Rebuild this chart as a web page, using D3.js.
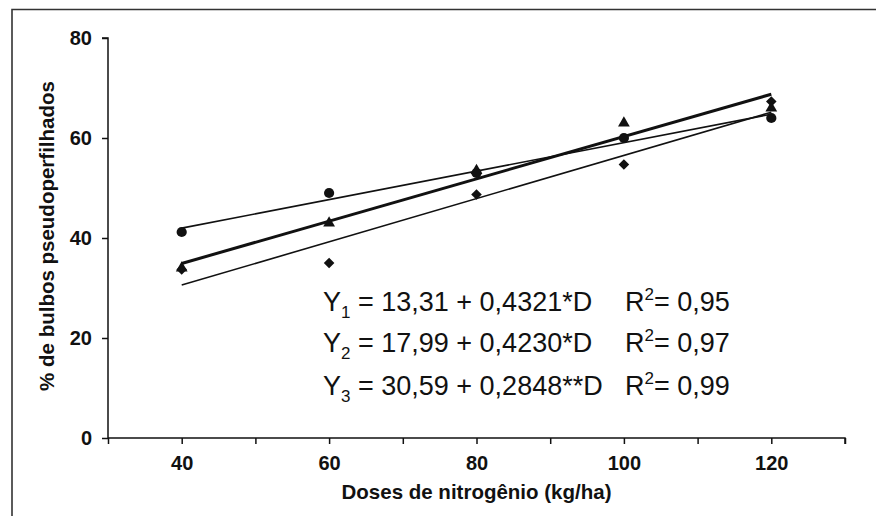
<!DOCTYPE html>
<html>
<head>
<meta charset="utf-8">
<script src="https://cdn.jsdelivr.net/npm/d3@7"></script>
<style>
  body { margin: 0; background: #fff; }
  svg text { font-family: Arial, "Liberation Sans", sans-serif; }
</style>
</head>
<body>
<div id="chart"></div>
<script>
// Doses (kg/ha) and observed percentages
const doses = [40, 60, 80, 100, 120];
const y1Values = [33.7, 35, 48.7, 54.7, 67.3]; // diamonds
const y2Values = [34, 43, 53.5, 63, 66];       // triangles
const y3Values = [41.2, 49, 53, 60, 64];       // circles

// Regression coefficients
const intercepts = [13.31, 17.99, 30.59];
const slopes = [0.4321, 0.4230, 0.2848];
const slopeLabels = ["0,4321*D", "0,4230*D", "0,2848**D"];
const interceptLabels = ["13,31", "17,99", "30,59"];
const r2Labels = ["0,95", "0,97", "0,99"];

const xTicks = [30, 40, 50, 60, 70, 80, 90, 100, 110, 120, 130];
const xLabels = [40, 60, 80, 100, 120];
const yTicks = [0, 20, 40, 60, 80];

const width = 876;
const height = 516;

const svg = d3.select("#chart")
  .append("svg")
  .attr("width", width)
  .attr("height", height);

// frame (top + left only, image is cropped)
svg.append("path")
  .attr("d", "M12,516 L12,9.5 L876,9.5")
  .attr("fill", "none")
  .attr("stroke", "#333")
  .attr("stroke-width", 1.6);

const x = d3.scaleLinear().domain([30, 130]).range([108, 845]);
const y = d3.scaleLinear().domain([0, 80]).range([438, 38]);

// Y axis
const yAxis = svg.append("g")
  .attr("transform", `translate(${x(30)},0)`)
  .call(d3.axisLeft(y).tickValues(yTicks).tickSize(6).tickPadding(10));
yAxis.select(".domain").attr("d", `M-6,${y(80)}H0V${y(0)}`);

// X axis
const xAxis = svg.append("g")
  .attr("transform", `translate(0,${y(0)})`)
  .call(d3.axisBottom(x).tickValues(xTicks).tickSize(6).tickPadding(12)
    .tickFormat((d) => (xLabels.includes(d) ? d : "")));
xAxis.select(".domain").attr("d", `M${x(30)},0H${x(130)}V6`);

svg.selectAll(".tick text")
  .attr("font-size", "20px")
  .attr("font-weight", "bold")
  .attr("fill", "#111");
svg.selectAll(".domain, .tick line")
  .attr("stroke", "#111")
  .attr("stroke-width", 1.5);

// axis titles
svg.append("text")
  .attr("x", (x(30) + x(130)) / 2)
  .attr("y", 499)
  .attr("text-anchor", "middle")
  .attr("font-size", "20.5px")
  .attr("font-weight", "bold")
  .attr("fill", "#111")
  .text("Doses de nitrogênio (kg/ha)");

svg.append("text")
  .attr("transform", "translate(54,236) rotate(-90)")
  .attr("text-anchor", "middle")
  .attr("font-size", "20.5px")
  .attr("font-weight", "bold")
  .attr("fill", "#111")
  .text("% de bulbos pseudoperfilhados");

// regression lines
const lineWidths = [1.6, 3, 1.6];
intercepts.forEach((b, i) => {
  const ends = [doses[0], doses[doses.length - 1]];
  svg.append("line")
    .attr("x1", x(ends[0]))
    .attr("y1", y(b + slopes[i] * ends[0]))
    .attr("x2", x(ends[1]))
    .attr("y2", y(b + slopes[i] * ends[1]))
    .attr("stroke", "#111")
    .attr("stroke-width", lineWidths[i]);
});

// markers
const diamond = d3.symbol().type(d3.symbolSquare).size(56);
const series = [
  { values: y1Values, path: diamond(), rotate: 45 },
  { values: y3Values, path: d3.symbol().type(d3.symbolCircle).size(82)(), rotate: 0 },
  { values: y2Values, path: d3.symbol().type(d3.symbolTriangle).size(60)(), rotate: 0 },
];
series.forEach((s) => {
  svg.append("g")
    .selectAll("path")
    .data(doses.map((d, i) => [d, s.values[i]]))
    .enter()
    .append("path")
    .attr("transform", (d) => `translate(${x(d[0])},${y(d[1])}) rotate(${s.rotate})`)
    .attr("d", s.path)
    .attr("fill", "#111");
});

// equations
const eqY = [311, 352, 395];
intercepts.forEach((b, i) => {
  const t = svg.append("text")
    .attr("x", 323)
    .attr("y", eqY[i])
    .attr("font-size", "27px")
    .attr("fill", "#111");
  t.append("tspan").text("Y");
  t.append("tspan").attr("font-size", "17px").attr("dy", 7).text(i + 1);
  t.append("tspan").attr("dy", -7).text(` = ${interceptLabels[i]} + ${slopeLabels[i]}`);
  const r = svg.append("text")
    .attr("x", 625)
    .attr("y", eqY[i])
    .attr("font-size", "27px")
    .attr("fill", "#111");
  r.append("tspan").text("R");
  r.append("tspan").attr("font-size", "17px").attr("dy", -11).text("2");
  r.append("tspan").attr("dy", 11).text(`= ${r2Labels[i]}`);
});
</script>
</body>
</html>
